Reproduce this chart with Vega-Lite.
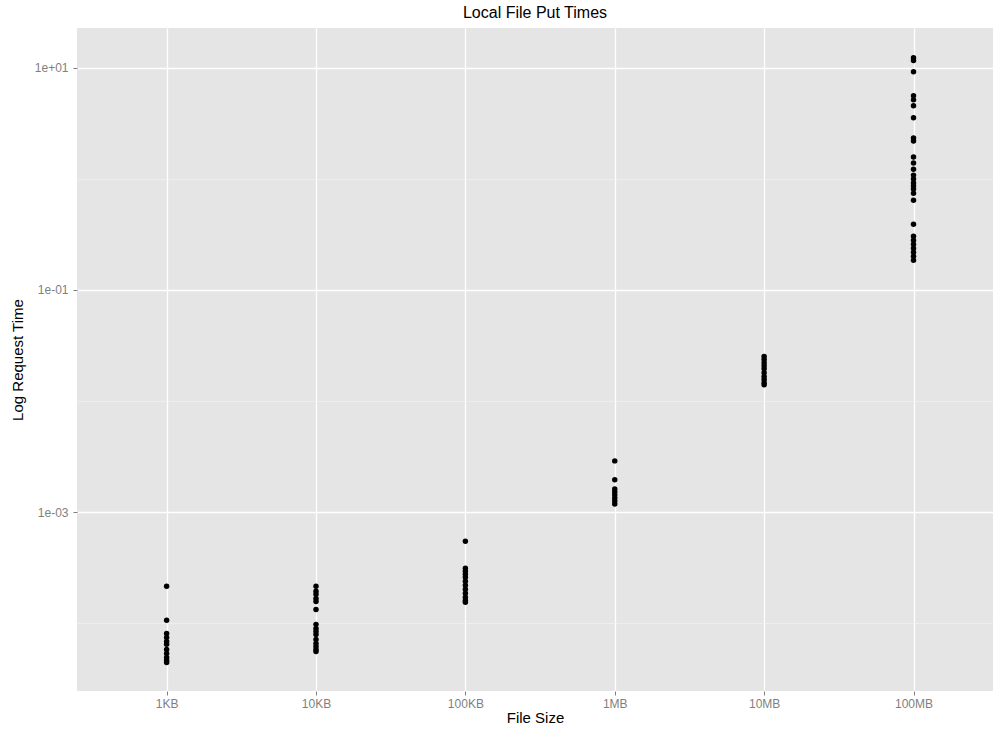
{
  "$schema": "https://vega.github.io/schema/vega-lite/v6.json",
  "width": 916,
  "height": 663,
  "autosize": "none",
  "padding": {"left": 77, "top": 28, "right": 0, "bottom": 41},
  "background": "white",
  "title": {"text": "Local File Put Times", "fontSize": 16, "font": "Liberation Sans", "fontWeight": "normal", "color": "black", "anchor": "middle", "offset": 7},
  "config": {
    "view": {"fill": "#E5E5E5", "stroke": null},
    "axis": {"domain": false, "labelFont": "Liberation Sans", "titleFont": "Liberation Sans", "labelColor": "#7F7F7F", "labelFontSize": 12, "titleFontSize": 15, "titleFontWeight": "normal", "titleColor": "black", "tickColor": "#7F7F7F", "tickSize": 4, "tickWidth": 1}
  },
  "data": {"values": [
    {"size": "1KB", "time": 0.000215}, {"size": "1KB", "time": 0.000106}, {"size": "1KB", "time": 0.0000807}, {"size": "1KB", "time": 0.0000743}, {"size": "1KB", "time": 0.0000684}, {"size": "1KB", "time": 0.0000645}, {"size": "1KB", "time": 0.000058}, {"size": "1KB", "time": 0.0000533}, {"size": "1KB", "time": 0.000049}, {"size": "1KB", "time": 0.0000461}, {"size": "1KB", "time": 0.0000442},
    {"size": "10KB", "time": 0.000215}, {"size": "10KB", "time": 0.000194}, {"size": "10KB", "time": 0.000182}, {"size": "10KB", "time": 0.000167}, {"size": "10KB", "time": 0.000157}, {"size": "10KB", "time": 0.000133}, {"size": "10KB", "time": 0.0000975}, {"size": "10KB", "time": 0.0000897}, {"size": "10KB", "time": 0.0000842}, {"size": "10KB", "time": 0.0000791}, {"size": "10KB", "time": 0.0000713}, {"size": "10KB", "time": 0.0000656}, {"size": "10KB", "time": 0.0000617}, {"size": "10KB", "time": 0.000058}, {"size": "10KB", "time": 0.0000556},
    {"size": "100KB", "time": 0.000547}, {"size": "100KB", "time": 0.000312}, {"size": "100KB", "time": 0.000293}, {"size": "100KB", "time": 0.000275}, {"size": "100KB", "time": 0.000259}, {"size": "100KB", "time": 0.000238}, {"size": "100KB", "time": 0.000219}, {"size": "100KB", "time": 0.000202}, {"size": "100KB", "time": 0.000186}, {"size": "100KB", "time": 0.000171}, {"size": "100KB", "time": 0.00016}, {"size": "100KB", "time": 0.000154},
    {"size": "1MB", "time": 0.00289}, {"size": "1MB", "time": 0.00195}, {"size": "1MB", "time": 0.00161}, {"size": "1MB", "time": 0.00152}, {"size": "1MB", "time": 0.00143}, {"size": "1MB", "time": 0.00134}, {"size": "1MB", "time": 0.00126}, {"size": "1MB", "time": 0.00118},
    {"size": "10MB", "time": 0.0251}, {"size": "10MB", "time": 0.0236}, {"size": "10MB", "time": 0.0221}, {"size": "10MB", "time": 0.0208}, {"size": "10MB", "time": 0.0195}, {"size": "10MB", "time": 0.018}, {"size": "10MB", "time": 0.0166}, {"size": "10MB", "time": 0.0156}, {"size": "10MB", "time": 0.0146}, {"size": "10MB", "time": 0.014},
    {"size": "100MB", "time": 12.3}, {"size": "100MB", "time": 11.6}, {"size": "100MB", "time": 9.2}, {"size": "100MB", "time": 5.59}, {"size": "100MB", "time": 5.14}, {"size": "100MB", "time": 4.54}, {"size": "100MB", "time": 3.54}, {"size": "100MB", "time": 2.33}, {"size": "100MB", "time": 2.19}, {"size": "100MB", "time": 1.57}, {"size": "100MB", "time": 1.39}, {"size": "100MB", "time": 1.22}, {"size": "100MB", "time": 1.08}, {"size": "100MB", "time": 0.995}, {"size": "100MB", "time": 0.916}, {"size": "100MB", "time": 0.861}, {"size": "100MB", "time": 0.808}, {"size": "100MB", "time": 0.743}, {"size": "100MB", "time": 0.643}, {"size": "100MB", "time": 0.39}, {"size": "100MB", "time": 0.304}, {"size": "100MB", "time": 0.28}, {"size": "100MB", "time": 0.258}, {"size": "100MB", "time": 0.237}, {"size": "100MB", "time": 0.218}, {"size": "100MB", "time": 0.201}, {"size": "100MB", "time": 0.185}
  ]},
  "mark": {"type": "point", "filled": true, "color": "black", "opacity": 1, "size": 30},
  "encoding": {
    "x": {
      "field": "size", "type": "nominal",
      "sort": ["1KB", "10KB", "100KB", "1MB", "10MB", "100MB"],
      "scale": {"type": "point", "padding": 0.566, "align": 0.53},
      "axis": {"title": "File Size", "labelAngle": 0, "grid": true, "gridColor": "white", "gridWidth": 1.3, "labelPadding": 3, "titlePadding": 1}
    },
    "y": {
      "field": "time", "type": "quantitative",
      "scale": {"type": "log", "domain": [0.0000245, 22.8], "nice": false},
      "axis": {
        "title": "Log Request Time",
        "values": [10, 1, 0.1, 0.01, 0.001, 0.0001],
        "labelExpr": "datum.value == 10 ? '1e+01' : datum.value == 0.1 ? '1e-01' : datum.value == 0.001 ? '1e-03' : ''",
        "grid": true,
        "gridColor": {"condition": {"test": "datum.value == 10 || datum.value == 0.1 || datum.value == 0.001", "value": "white"}, "value": "#F2F2F2"},
        "gridWidth": {"condition": {"test": "datum.value == 10 || datum.value == 0.1 || datum.value == 0.001", "value": 1.3}, "value": 0.7},
        "tickOpacity": {"condition": {"test": "datum.value == 10 || datum.value == 0.1 || datum.value == 0.001", "value": 1}, "value": 0},
        "labelPadding": 5,
        "titlePadding": 9
      }
    }
  }
}
